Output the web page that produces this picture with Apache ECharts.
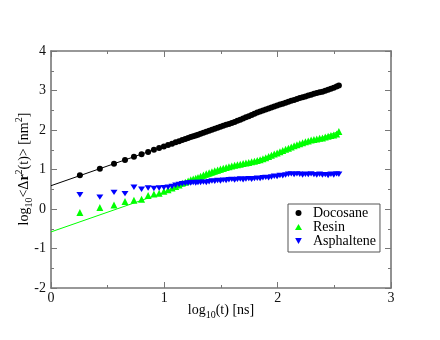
<!DOCTYPE html>
<html>
<head>
<meta charset="utf-8">
<script src="https://cdn.jsdelivr.net/npm/echarts@6/dist/echarts.min.js"></script>
<style>
html,body{margin:0;padding:0;background:#fff;}
#chart{width:440px;height:340px;}
</style>
</head>
<body>
<div id="chart"></div>
<script>
// log10(t) values (x)
var logT = [0.255,0.431,0.556,0.653,0.732,0.799,0.857,0.908,0.954,0.996,1.033,1.068,1.100,1.130,1.158,1.185,1.210,1.233,1.255,1.277,1.297,
  1.32,1.345,1.37,1.395,1.42,1.445,1.47,1.495,1.52,1.545,1.57,1.595,1.62,1.645,1.67,1.695,1.72,1.745,1.77,1.795,
  1.82,1.845,1.87,1.895,1.92,1.945,1.97,1.995,2.02,2.045,2.07,2.095,2.12,2.145,2.17,2.195,2.22,2.245,2.27,2.295,
  2.32,2.345,2.37,2.395,2.42,2.445,2.47,2.495,2.52,2.54];
var docosane = [0.855,1.02,1.145,1.24,1.32,1.385,1.44,1.50,1.545,1.585,1.62,1.655,1.69,1.715,1.745,1.77,1.795,1.82,1.84,1.86,1.88,
  1.905,1.93,1.955,1.98,2.005,2.03,2.055,2.08,2.11,2.13,2.15,2.175,2.205,2.235,2.26,2.29,2.32,2.35,2.38,2.41,
  2.44,2.47,2.495,2.52,2.545,2.57,2.595,2.62,2.645,2.665,2.69,2.715,2.74,2.76,2.785,2.81,2.83,2.85,2.875,2.895,
  2.915,2.935,2.955,2.97,2.995,3.02,3.045,3.07,3.10,3.125];
var resin = [-0.09,0.04,0.10,0.19,0.22,0.25,0.34,0.38,0.40,0.45,0.49,0.53,0.57,0.61,0.65,0.68,0.71,0.74,0.76,0.78,0.80,
  0.83,0.86,0.89,0.92,0.945,0.97,0.99,1.01,1.03,1.05,1.07,1.09,1.105,1.12,1.135,1.15,1.165,1.18,1.195,1.21,
  1.23,1.25,1.275,1.30,1.33,1.36,1.39,1.42,1.45,1.48,1.51,1.54,1.57,1.60,1.625,1.65,1.68,1.70,1.72,1.745,
  1.76,1.775,1.79,1.80,1.82,1.84,1.86,1.875,1.90,1.96];
var asphaltene = [0.36,0.30,0.42,0.39,0.55,0.50,0.53,0.52,0.53,0.54,0.55,0.57,0.60,0.62,0.64,0.65,0.66,0.66,0.67,0.66,0.67,
  0.67,0.68,0.67,0.69,0.71,0.70,0.72,0.71,0.73,0.72,0.74,0.75,0.73,0.75,0.76,0.74,0.76,0.77,0.75,0.77,
  0.78,0.77,0.79,0.80,0.79,0.81,0.83,0.82,0.85,0.84,0.86,0.88,0.89,0.87,0.89,0.88,0.86,0.88,0.87,0.89,
  0.87,0.86,0.88,0.86,0.87,0.85,0.88,0.86,0.89,0.88];
// linear fits (slope 1)
var fitX = [0, 2.54];
var docosaneFit = [0.59, 3.13];
var resinFit = [-0.58, 1.96];
var seriesNames = ['Docosane','Resin','Asphaltene'];
var xTicks = [0,1,2,3];
var yTicks = [-2,-1,0,1,2,3,4];

function pairs(xs, ys){ return xs.map(function(x,i){ return [x, ys[i]]; }); }

var serif = 'Liberation Serif, Times New Roman, serif';
var frame = '#777';
function mkAxis(pos, isX, showLabel){
  var ticks = isX ? xTicks : yTicks;
  return {
    type:'value', position:pos,
    min: ticks[0], max: ticks[ticks.length-1], interval:1,
    axisLine:{show:true, onZero:false, lineStyle:{color:frame, width:1.6}},
    axisTick:{show:true, inside:true, length:6, lineStyle:{color:frame, width:1}},
    minorTick:{show:true, splitNumber:2, length:3, lineStyle:{color:frame, width:1}},
    splitLine:{show:false},
    axisLabel:{show:showLabel, fontFamily:serif, fontSize:14, color:'#111', margin: isX ? 3 : 5}
  };
}

var downTri = 'path://M0,0L10,0L5,9Z';
var chart = echarts.init(document.getElementById('chart'), null, {renderer:'canvas'});
chart.setOption({
  backgroundColor:'#fff',
  animation:false,
  grid:{left:51, right:49, top:51, bottom:52},
  xAxis:[mkAxis('bottom', true, true), mkAxis('top', true, false)],
  yAxis:[mkAxis('left', false, true), mkAxis('right', false, false)],
  legend:{
    data:[
      {name:seriesNames[0], icon:'circle'},
      {name:seriesNames[1], icon:'triangle'},
      {name:seriesNames[2], icon:downTri}
    ],
    orient:'vertical', left:288, top:204,
    padding:[2,4,4,7], itemGap:0, itemWidth:7, itemHeight:6,
    symbolKeepAspect:true,
    borderColor:'#555', borderWidth:1, backgroundColor:'#fff',
    textStyle:{fontFamily:serif, fontSize:14, color:'#000', lineHeight:13, padding:[0,0,0,6]}
  },
  series:[
    {type:'line', data:pairs(fitX, docosaneFit), showSymbol:false, silent:true,
     lineStyle:{color:'#000', width:1}, z:1},
    {type:'line', data:pairs(fitX, resinFit), showSymbol:false, silent:true,
     lineStyle:{color:'#00ff00', width:1}, z:1},
    {name:seriesNames[0], type:'scatter', data:pairs(logT, docosane), symbol:'circle', symbolSize:6,
     symbolKeepAspect:true, itemStyle:{color:'#000', opacity:1}, z:2},
    {name:seriesNames[1], type:'scatter', data:pairs(logT, resin), symbol:'triangle', symbolSize:7,
     symbolKeepAspect:true, itemStyle:{color:'#00ff00', opacity:1}, z:2},
    {name:seriesNames[2], type:'scatter', data:pairs(logT, asphaltene), symbol:downTri, symbolSize:[7,6],
     symbolKeepAspect:true, itemStyle:{color:'#0000ff', opacity:1}, z:3}
  ],
  graphic:[
    {type:'text', x:24, y:169, rotation:Math.PI/2,
     style:{
       text:'{n|log}{s|10}{n|<Δ}{b|r}{p|2}{n|(t)> [nm}{p|2}{n|]}',
       align:'center', verticalAlign:'middle', fill:'#000',
       rich:{
         n:{fontFamily:serif, fontSize:14, lineHeight:20, fill:'#000'},
         b:{fontFamily:serif, fontSize:14, lineHeight:20, fontWeight:'bold', fill:'#000'},
         s:{fontFamily:serif, fontSize:10, lineHeight:10, verticalAlign:'bottom', fill:'#000'},
         p:{fontFamily:serif, fontSize:10, lineHeight:10, verticalAlign:'top', fill:'#000'}
       }
     }},
    {type:'text', x:221, y:310,
     style:{
       text:'{n|log}{s|10}{n|(t) [ns]}',
       align:'center', verticalAlign:'middle', fill:'#000',
       rich:{
         n:{fontFamily:serif, fontSize:14, lineHeight:20, fill:'#000'},
         s:{fontFamily:serif, fontSize:10, lineHeight:10, verticalAlign:'bottom', fill:'#000'}
       }
     }}
  ]
});
</script>
</body>
</html>
